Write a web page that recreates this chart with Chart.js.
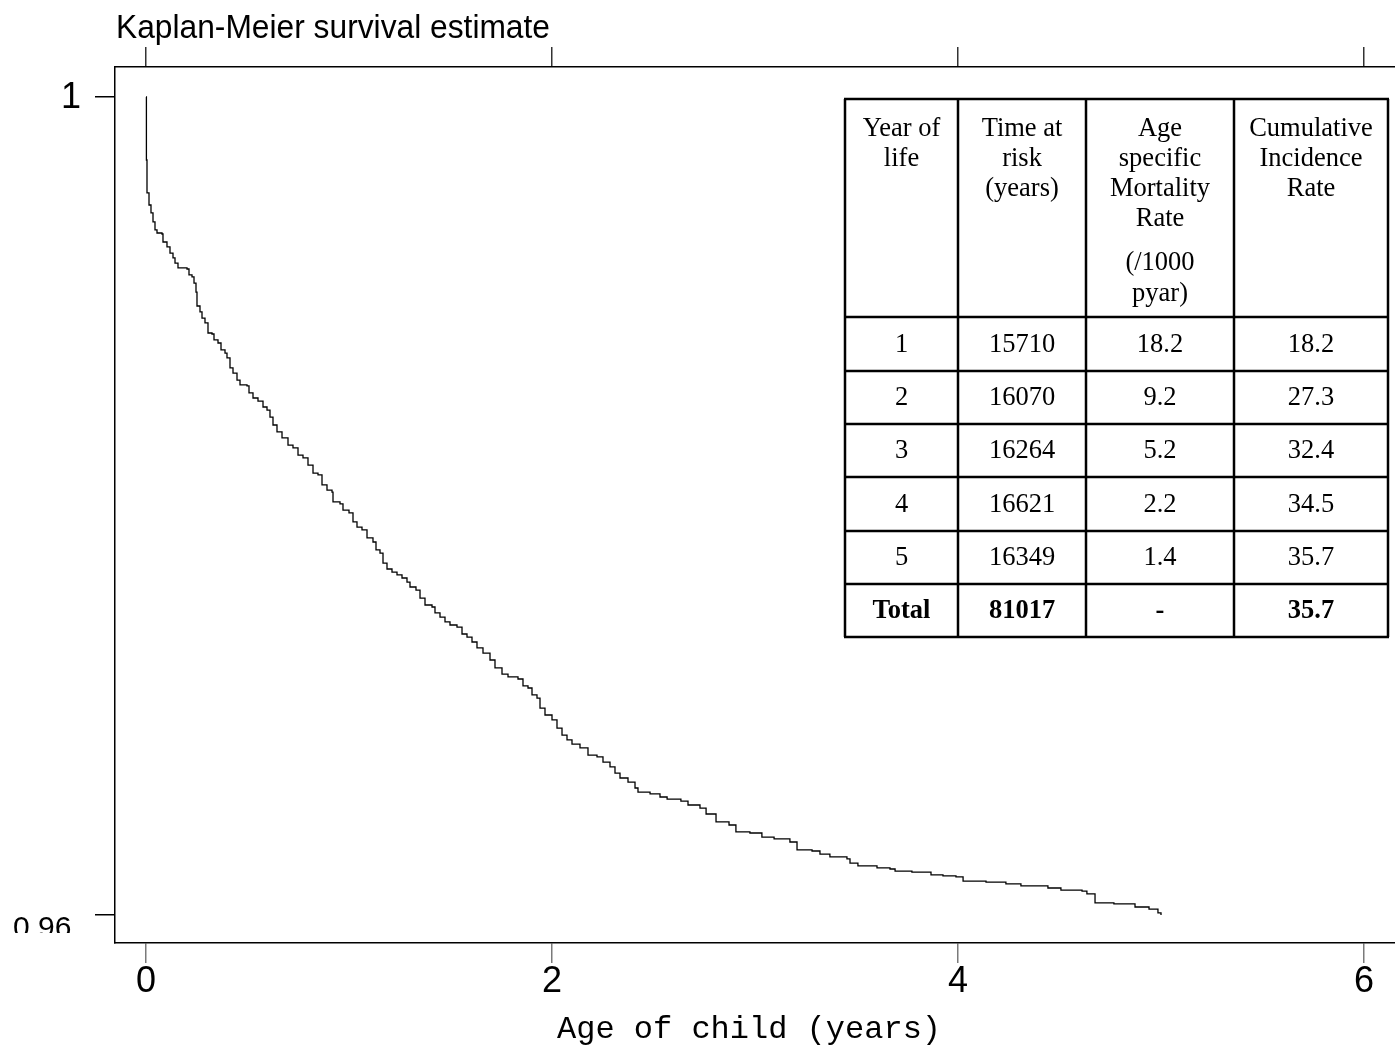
<!DOCTYPE html>
<html>
<head>
<meta charset="utf-8">
<script src="https://cdn.jsdelivr.net/npm/chart.js@4.4.1/dist/chart.umd.min.js"></script>
<style>
  body { margin: 0; background: #fff; }
  #wrap { width: 1395px; height: 1047px; }
</style>
</head>
<body>
<div id="wrap"><canvas id="km" width="1395" height="1047"></canvas></div>
<script>
// Kaplan-Meier curve (age in years, survival)
const ageYears = [
  0.0000, 0.0020, 0.0049, 0.0148, 0.0246, 0.0345, 0.0443, 0.0542, 0.0788, 0.0837,
  0.1034, 0.1182, 0.1330, 0.1429, 0.1576, 0.2020, 0.2118, 0.2266, 0.2365, 0.2463,
  0.2512, 0.2660, 0.2759, 0.2906, 0.3054, 0.3251, 0.3350, 0.3547, 0.3695, 0.3892,
  0.3990, 0.4138, 0.4286, 0.4483, 0.4631, 0.4975, 0.5074, 0.5271, 0.5517, 0.5764,
  0.5961, 0.6108, 0.6256, 0.6453, 0.6700, 0.6995, 0.7241, 0.7488, 0.7734, 0.7980,
  0.8227, 0.8473, 0.8670, 0.8916, 0.9163, 0.9212, 0.9557, 0.9704, 1.0000, 1.0197,
  1.0394, 1.0640, 1.0887, 1.1182, 1.1330, 1.1527, 1.1675, 1.1872, 1.2118, 1.2365,
  1.2611, 1.2857, 1.3005, 1.3300, 1.3498, 1.3744, 1.4089, 1.4236, 1.4483, 1.4729,
  1.4975, 1.5320, 1.5567, 1.5813, 1.6059, 1.6305, 1.6601, 1.6946, 1.7192, 1.7537,
  1.7833, 1.8325, 1.8571, 1.8818, 1.9015, 1.9261, 1.9409, 1.9655, 2.0000, 2.0246,
  2.0493, 2.0739, 2.0985, 2.1379, 2.1773, 2.2217, 2.2512, 2.2857, 2.3103, 2.3350,
  2.3744, 2.4089, 2.4236, 2.483, 2.532, 2.567, 2.635, 2.670, 2.729, 2.759,
  2.808, 2.872, 2.906, 2.975, 3.034, 3.094, 3.172, 3.207, 3.281, 3.320,
  3.369, 3.453, 3.468, 3.507, 3.601, 3.665, 3.690, 3.773, 3.867, 3.926,
  3.990, 4.025, 4.138, 4.236, 4.310, 4.443, 4.507, 4.611, 4.635, 4.675,
  4.768, 4.872, 4.941, 4.985, 5.000
];
const survival = [
  1.00000, 0.99692, 0.99531, 0.99472, 0.99433, 0.99389, 0.99350, 0.99335, 0.99330, 0.99291,
  0.99267, 0.99237, 0.99213, 0.99188, 0.99164, 0.99159, 0.99130, 0.99120, 0.99090, 0.99046,
  0.98978, 0.98949, 0.98919, 0.98895, 0.98846, 0.98841, 0.98812, 0.98797, 0.98763, 0.98748,
  0.98724, 0.98675, 0.98650, 0.98616, 0.98592, 0.98587, 0.98553, 0.98528, 0.98513, 0.98484,
  0.98469, 0.98435, 0.98396, 0.98362, 0.98333, 0.98298, 0.98284, 0.98249, 0.98235, 0.98200,
  0.98161, 0.98152, 0.98103, 0.98078, 0.98068, 0.98020, 0.98010, 0.97980, 0.97966, 0.97922,
  0.97897, 0.97883, 0.97844, 0.97824, 0.97785, 0.97770, 0.97721, 0.97692, 0.97677, 0.97663,
  0.97648, 0.97628, 0.97604, 0.97589, 0.97550, 0.97516, 0.97506, 0.97477, 0.97457, 0.97433,
  0.97418, 0.97408, 0.97374, 0.97359, 0.97335, 0.97306, 0.97281, 0.97247, 0.97208, 0.97178,
  0.97164, 0.97154, 0.97120, 0.97110, 0.97076, 0.97061, 0.97012, 0.96978, 0.96954, 0.96914,
  0.96880, 0.96856, 0.96836, 0.96817, 0.96782, 0.96773, 0.96748, 0.96724, 0.96694, 0.96670,
  0.96650, 0.96621, 0.96601, 0.96592, 0.96577, 0.96567, 0.96557, 0.96538, 0.96523, 0.96494,
  0.96455, 0.96440, 0.96406, 0.96401, 0.96381, 0.96372, 0.96357, 0.96318, 0.96313, 0.96298,
  0.96284, 0.96274, 0.96254, 0.96240, 0.96230, 0.96225, 0.96215, 0.96210, 0.96196, 0.96191,
  0.96186, 0.96166, 0.96161, 0.96152, 0.96142, 0.96132, 0.96122, 0.96117, 0.96103, 0.96059,
  0.96054, 0.96039, 0.96029, 0.96010, 0.96000
];

const xTicks = [0, 2, 4, 6];
const yTicks = [0.96, 1];
const yTickLabels = ['0.96', '1'];

// inset table
const headerCols = [
  ['Year of', 'life'],
  ['Time at', 'risk', '(years)'],
  ['Age', 'specific', 'Mortality', 'Rate', '(/1000', 'pyar)'],
  ['Cumulative', 'Incidence', 'Rate']
];
const yearOfLife = ['1', '2', '3', '4', '5', 'Total'];
const timeAtRisk = ['15710', '16070', '16264', '16621', '16349', '81017'];
const mortalityRate = ['18.2', '9.2', '5.2', '2.2', '1.4', '-'];
const cumulativeRate = ['18.2', '27.3', '32.4', '34.5', '35.7', '35.7'];

const TITLE = 'Kaplan-Meier survival estimate';
const X_TITLE = 'Age of child (years)';
const SERIF = '"Liberation Serif", "Times New Roman", serif';

/**
 * Draw title, axis title, y labels and the inset table.
 */
const decorations = {
  id: 'decorations',
  afterDraw(chart) {
    const { ctx } = chart;
    const yScale = chart.scales.y;
    ctx.save();
    ctx.fillStyle = '#000';

    // title, squeezed to the width seen in the picture
    ctx.font = '33px "Liberation Sans Narrow", "Liberation Sans", Arial, sans-serif';
    ctx.textAlign = 'left';
    ctx.textBaseline = 'alphabetic';
    const tw = ctx.measureText(TITLE).width;
    ctx.save();
    ctx.translate(116, 38);
    ctx.scale(434 / tw, 1);
    ctx.fillText(TITLE, 0, 0);
    ctx.restore();

    // x axis title
    ctx.font = '32px "Liberation Mono", "Courier New", monospace';
    ctx.textAlign = 'center';
    ctx.fillText(X_TITLE, 749, 1038);

    // y tick labels
    yTicks.forEach((v, i) => {
      const py = yScale.getPixelForValue(v);
      if (v === 1) {
        ctx.font = '36px "Liberation Sans", Arial, sans-serif';
        ctx.textAlign = 'right';
        ctx.textBaseline = 'middle';
        ctx.fillText(yTickLabels[i], 81, py + 1);
      } else {
        ctx.save();
        ctx.beginPath();
        ctx.rect(0, py - 10, 110, 933 - (py - 10));
        ctx.clip();
        ctx.font = '30px "Liberation Sans", Arial, sans-serif';
        ctx.textAlign = 'left';
        ctx.textBaseline = 'alphabetic';
        ctx.fillText(yTickLabels[i], 13, py + 22);
        ctx.restore();
      }
    });

    // table
    const colX = [845, 958, 1086, 1234, 1388];
    const rowY = [99, 317, 371, 424, 477, 531, 584, 637];
    ctx.strokeStyle = '#000';
    ctx.lineWidth = 2.5;
    ctx.fillStyle = '#fff';
    ctx.fillRect(colX[0], rowY[0], colX[4] - colX[0], rowY[7] - rowY[0]);
    ctx.beginPath();
    colX.forEach((x) => { ctx.moveTo(x, rowY[0]); ctx.lineTo(x, rowY[7]); });
    rowY.forEach((y) => { ctx.moveTo(colX[0] - 1, y); ctx.lineTo(colX[4] + 1, y); });
    ctx.stroke();

    ctx.fillStyle = '#000';
    ctx.textAlign = 'center';
    ctx.textBaseline = 'middle';
    ctx.font = '26.5px ' + SERIF;
    const headLineY = [129, 159, 189, 219, 263, 294];
    headerCols.forEach((lines, c) => {
      const cx = (colX[c] + colX[c + 1]) / 2;
      lines.forEach((t, k) => ctx.fillText(t, cx, headLineY[k]));
    });
    const body = [yearOfLife, timeAtRisk, mortalityRate, cumulativeRate];
    for (let r = 0; r < yearOfLife.length; r++) {
      const cy = (rowY[r + 1] + rowY[r + 2]) / 2 + 1;
      const isTotal = r === yearOfLife.length - 1;
      ctx.font = (isTotal ? 'bold ' : '') + '26.5px ' + SERIF;
      body.forEach((col, c) => {
        const cx = (colX[c] + colX[c + 1]) / 2;
        ctx.fillText(col[r], cx, cy);
      });
    }
    ctx.restore();
  }
};

const X_MIN = -31 / 203;
const X_MAX = 6 + 31 / 203;
const Y_MIN = 0.96 - 28 / 20450;
const Y_MAX = 1 + 30 / 20450;

const setTicks = (values) => (scale) => {
  scale.ticks = values.map((v) => ({ value: v }));
};

new Chart(document.getElementById('km').getContext('2d'), {
  type: 'line',
  data: {
    datasets: [{
      data: ageYears.map((t, i) => ({ x: t, y: survival[i] })),
      borderColor: '#000',
      borderWidth: 1.3,
      pointRadius: 0,
      stepped: true,
      fill: false
    }]
  },
  options: {
    responsive: false,
    animation: false,
    layout: { padding: 0 },
    plugins: { legend: { display: false }, tooltip: { enabled: false }, title: { display: false } },
    scales: {
      x: {
        type: 'linear',
        position: 'bottom',
        min: X_MIN,
        max: X_MAX,
        afterBuildTicks: setTicks(xTicks),
        afterFit: (scale) => { scale.height = 104; },
        grid: { drawOnChartArea: false, tickLength: 20, color: '#7a7a7a', lineWidth: 1.5 },
        border: { color: '#000', width: 1.5 },
        ticks: {
          color: '#000',
          padding: -3,
          maxRotation: 0,
          font: { family: '"Liberation Sans", Arial, sans-serif', size: 36 },
          callback: (v) => String(v)
        }
      },
      x2: {
        type: 'linear',
        position: 'top',
        min: X_MIN,
        max: X_MAX,
        afterBuildTicks: setTicks(xTicks),
        afterFit: (scale) => { scale.height = 67; },
        grid: { drawOnChartArea: false, tickLength: 20, color: '#333', lineWidth: 1.5 },
        border: { color: '#000', width: 1.5 },
        ticks: { display: false }
      },
      y: {
        type: 'linear',
        min: Y_MIN,
        max: Y_MAX,
        afterBuildTicks: setTicks(yTicks),
        afterFit: (scale) => { scale.width = 115; },
        grid: { drawOnChartArea: false, tickLength: 20, color: '#000', lineWidth: 1.5 },
        border: { color: '#000', width: 1.5 },
        ticks: { display: false }
      }
    }
  },
  plugins: [decorations]
});
</script>
</body>
</html>
